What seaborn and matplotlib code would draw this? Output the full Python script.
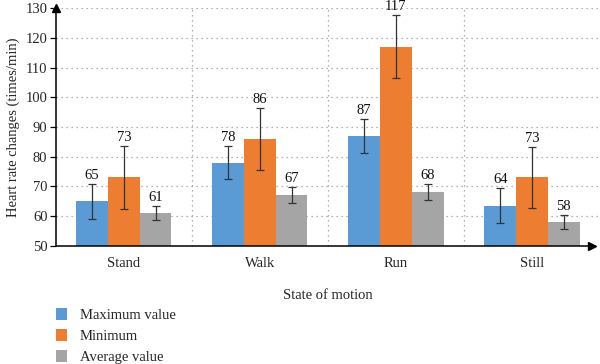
import numpy as np
import pandas as pd
import matplotlib
matplotlib.use('Agg')
import matplotlib.pyplot as plt
import seaborn as sns
from matplotlib.patches import Patch

# data
states = ['Stand', 'Walk', 'Run', 'Still']
series = ['Maximum value', 'Minimum', 'Average value']
max_vals = [65, 78, 87, 63.5]
min_vals = [73, 86, 117, 73]
avg_vals = [61, 67, 68, 58]
max_err = [5.9, 5.6, 5.8, 5.9]
min_err = [10.6, 10.5, 10.6, 10.3]
avg_err = [2.4, 2.7, 2.7, 2.3]
max_labels = ['65', '78', '87', '64']
min_labels = ['73', '86', '117', '73']
avg_labels = ['61', '67', '68', '58']
colors = ['#5B9BD5', '#ED7D31', '#A5A5A5']

vals = [max_vals, min_vals, avg_vals]
errs = [max_err, min_err, avg_err]
labels = [max_labels, min_labels, avg_labels]

df = pd.DataFrame({
    'state': states * 3,
    'series': np.repeat(series, len(states)),
    'value': max_vals + min_vals + avg_vals,
})

sns.set_style('white')
plt.rcParams['font.family'] = ['Liberation Serif', 'DejaVu Serif']
plt.rcParams['font.size'] = 10.5

fig = plt.figure(figsize=(6, 3.64), dpi=100)
ax = fig.add_axes([0.093, 0.325, 0.907, 0.652])

sns.barplot(data=df, x='state', y='value', hue='series', order=states,
            hue_order=series, palette=colors, width=0.7, errorbar=None,
            saturation=1, ax=ax, legend=False, zorder=2, linewidth=0)

# error bars and value labels, placed on each bar
for i, s in enumerate(series):
    cont = ax.containers[i]
    for j, bar in enumerate(cont):
        xc = bar.get_x() + bar.get_width() / 2
        v = vals[i][j]
        e = errs[i][j]
        ax.errorbar(xc, v, yerr=e, fmt='none', ecolor='#333333',
                    elinewidth=0.9, capsize=3, capthick=0.9, zorder=3)
        ax.annotate(labels[i][j], (xc, v + e), xytext=(0, 1.5),
                    textcoords='offset points', ha='center', va='bottom',
                    fontsize=10.5, color='#111111')

ax.set_ylim(50, 130)
ax.set_xlim(-0.5, 3.5)
ax.set_yticks(np.arange(50, 131, 10))
ax.set_xticks([0.5, 1.5, 2.5], minor=True)
ax.grid(axis='y', which='major', linestyle=(0, (1, 3)), color='#999999', linewidth=0.9, zorder=0)
ax.grid(axis='x', which='minor', linestyle=(0, (1, 3)), color='#999999', linewidth=0.9, zorder=0)
ax.set_axisbelow(True)

for sp in ['top', 'right', 'bottom']:
    ax.spines[sp].set_visible(False)
ax.spines['left'].set_color('black')
ax.spines['left'].set_linewidth(1.1)

# arrow axes
ax.plot([0, 0.985], [0, 0], color='black', lw=1.1, transform=ax.transAxes, clip_on=False, zorder=4)
ax.plot(0.985, 0, '>', color='black', ms=6, transform=ax.transAxes, clip_on=False, zorder=4)
ax.plot(0, 1, '^', color='black', ms=6, transform=ax.transAxes, clip_on=False, zorder=4)

ax.tick_params(axis='y', which='major', left=True, length=4, width=0.9, color='black', labelsize=10.5, pad=2)
ax.tick_params(axis='x', which='both', bottom=False, length=0, labelsize=10.5, pad=8)

ax.set_xlabel('State of motion', fontsize=10.5, labelpad=14)
ax.set_ylabel('Heart rate changes (times/min)', fontsize=10.5, labelpad=4)

handles = [Patch(facecolor=c, edgecolor='none') for c in colors]
fig.legend(handles, series, loc='upper left', bbox_to_anchor=(0.093, 0.153),
           frameon=False, handlelength=0.75, handleheight=0.9, handletextpad=0.9,
           labelspacing=0.45, fontsize=10.5, borderaxespad=0, borderpad=0)

fig.savefig('out.png', dpi=100)
